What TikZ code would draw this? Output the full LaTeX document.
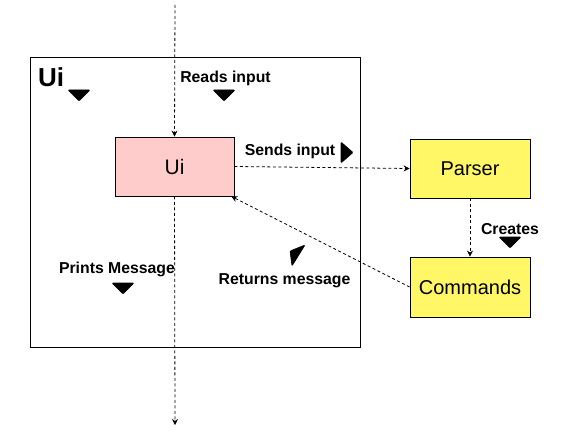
\documentclass[tikz,border=0pt]{standalone}
\usepackage{fontspec}
\setmainfont{Liberation Sans}
\usetikzlibrary{arrows.meta,positioning,calc}

\tikzset{
  flow/.style={draw, line width=0.8pt, dash pattern=on 3pt off 2.5pt, -{Stealth[length=6pt,width=6pt]}},
  block/.style={draw, line width=0.8pt, minimum width=119pt, minimum height=59pt, font=\fontsize{20}{24}\selectfont},
  lbl/.style={font=\bfseries\fontsize{15.8}{18}\selectfont, inner sep=0pt},
  wedge/.style={fill=black, draw=black, line width=0.6pt, rounded corners=1pt}
}

\begin{document}
\begin{tikzpicture}[x=1pt,y=-1pt]  %% px coords, y down

\useasboundingbox (0,0) rectangle (561,433);

%% the boundary of the Ui part
\draw [line width=0.8pt] (30,57) rectangle (360,347);
\node [lbl, font=\bfseries\fontsize{26}{30}\selectfont] (uititle) at (51,77) {Ui};

%% blocks
\node [block, fill=red!20, font=\fontsize{21}{24}\selectfont] (ui) at (174.5,166.5) {Ui};
\node [block, fill=yellow!60, minimum width=120pt] (parser)   at (470,168.5) {Parser};
\node [block, fill=yellow!60, minimum width=120pt, minimum height=60pt] (commands) at (470,287) {Commands};

\coordinate (inlet)  at (175,5);
\coordinate (outlet) at (175,425);

%% connectors
\draw [flow] (inlet) -- (ui.north);
\draw [flow] (ui.south) -- (outlet);
\draw [flow] (ui.east) -- (parser.west);
\draw [flow] (parser.south) -- (commands.north);
\draw [flow] (commands.west) -- ([xshift=-3pt]ui.south east);

%% labels
\node [lbl] (reads)   at (225.5,78.5)  {Reads input};
\node [lbl] (sends)   at (290,151.5) {Sends input};
\node [lbl] (prints)  at (117,269.5) {Prints Message};
\node [lbl] (returns) at (284.5,280.5) {Returns message};
\node [lbl] (creates) at (510,229.5) {Creates};

%% direction marks (down)
\foreach \cx/\ty in {79/90, 224/90, 123/283, 510/237}
  \filldraw [wedge] (\cx-11,\ty) -- (\cx+11,\ty) -- (\cx,\ty+11) -- cycle;

%% direction marks (right, slanted)
\filldraw [wedge] (341,142) -- (353,152.5) -- (341,163) -- cycle;
\filldraw [wedge] (290,251) -- (305,245) -- (292,266) -- cycle;

\end{tikzpicture}
\end{document}
